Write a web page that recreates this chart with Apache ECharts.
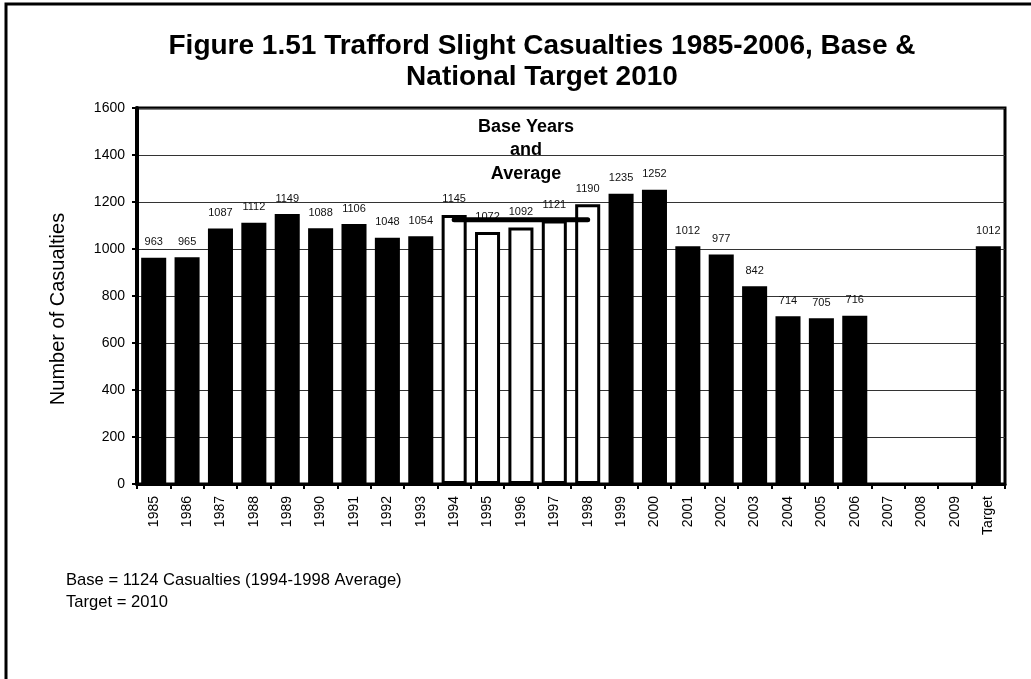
<!DOCTYPE html>
<html>
<head>
<meta charset="utf-8">
<script src="https://cdn.jsdelivr.net/npm/echarts@6/dist/echarts.min.js"></script>
<style>
html,body{margin:0;padding:0;background:#fff;}
#chart{width:1031px;height:679px;}
</style>
</head>
<body>
<div id="chart"></div>
<script>
var categories = ['1985','1986','1987','1988','1989','1990','1991','1992','1993','1994','1995','1996','1997','1998','1999','2000','2001','2002','2003','2004','2005','2006','2007','2008','2009','Target'];
var casualties = [963,965,1087,1112,1149,1088,1106,1048,1054,1145,1072,1092,1121,1190,1235,1252,1012,977,842,714,705,716,null,null,null,1012];
var baseYears = ['1994','1995','1996','1997','1998'];
var baseAverage = 1124;
var yTicks = {min:0, max:1600, interval:200};
var titleText = 'Figure 1.51 Trafford Slight Casualties 1985-2006, Base &\nNational Target 2010';
var yAxisTitle = 'Number of Casualties';
var baseLabel = ['Base Years','and','Average'];
var footnotes = ['Base = 1124 Casualties (1994-1998 Average)','Target = 2010'];

var barData = categories.map(function(c,i){
  var v = casualties[i];
  if (v === null) return '-';
  if (baseYears.indexOf(c) >= 0) {
    return {value:v, itemStyle:{color:'#fff', borderColor:'#000', borderWidth:3}};
  }
  return {value:v, itemStyle:{color:'#000'}};
});
var avgData = categories.map(function(c){
  return baseYears.indexOf(c) >= 0 ? baseAverage : '-';
});

var font = 'Liberation Sans, Arial, sans-serif';
var chart = echarts.init(document.getElementById('chart'), null, {renderer:'canvas'});
chart.setOption({
  animation:false,
  backgroundColor:'#fff',
  textStyle:{fontFamily:font},
  title:{
    text:titleText, left:537, textAlign:'center', top:26,
    textStyle:{fontSize:28, fontWeight:'bold', color:'#000', lineHeight:31, fontFamily:font}
  },
  grid:{left:137, right:26, top:108, bottom:195, show:true, borderColor:'#000', borderWidth:3},
  xAxis:{
    type:'category', data:categories,
    axisLine:{show:true, lineStyle:{color:'#000', width:3}},
    axisTick:{show:true, alignWithLabel:false, length:5, lineStyle:{color:'#000', width:2}},
    axisLabel:{rotate:90, fontSize:14, color:'#000', margin:12, fontFamily:font},
    splitLine:{show:false}
  },
  yAxis:{
    type:'value', min:yTicks.min, max:yTicks.max, interval:yTicks.interval,
    axisLine:{show:true, lineStyle:{color:'#000', width:4}},
    axisTick:{show:true, length:5, lineStyle:{color:'#000', width:2}},
    axisLabel:{fontSize:14, color:'#000', margin:12, fontFamily:font, formatter:function(v){return String(v);}},
    splitLine:{show:true, lineStyle:{color:'#333', width:1}}
  },
  series:[
    {
      type:'bar', data:barData, barCategoryGap:'25%',
      label:{show:true, position:'top', distance:10, fontSize:11, color:'#111', fontFamily:font}
    },
    {
      type:'line', data:avgData, symbol:'none', z:5,
      lineStyle:{color:'#000', width:5, cap:'round'}
    }
  ],
  graphic:[
    {type:'rect', shape:{x:6, y:4, width:1200, height:900}, style:{fill:'none', stroke:'#000', lineWidth:3}, silent:true},
    {type:'text', x:58, y:309, rotation:Math.PI/2, style:{text:yAxisTitle, fill:'#000', textAlign:'center', textVerticalAlign:'middle', font:'20px Liberation Sans, Arial, sans-serif'}},
    {type:'text', x:526, y:115, style:{text:baseLabel.join('\n'), fill:'#000', lineHeight:23.5, textAlign:'center', textVerticalAlign:'top', font:'bold 18px Liberation Sans, Arial, sans-serif'}},
    {type:'text', x:66, y:569, style:{text:footnotes.join('\n'), fill:'#000', lineHeight:22, textVerticalAlign:'top', font:'16.6px Liberation Sans, Arial, sans-serif'}}
  ]
});
</script>
</body>
</html>
